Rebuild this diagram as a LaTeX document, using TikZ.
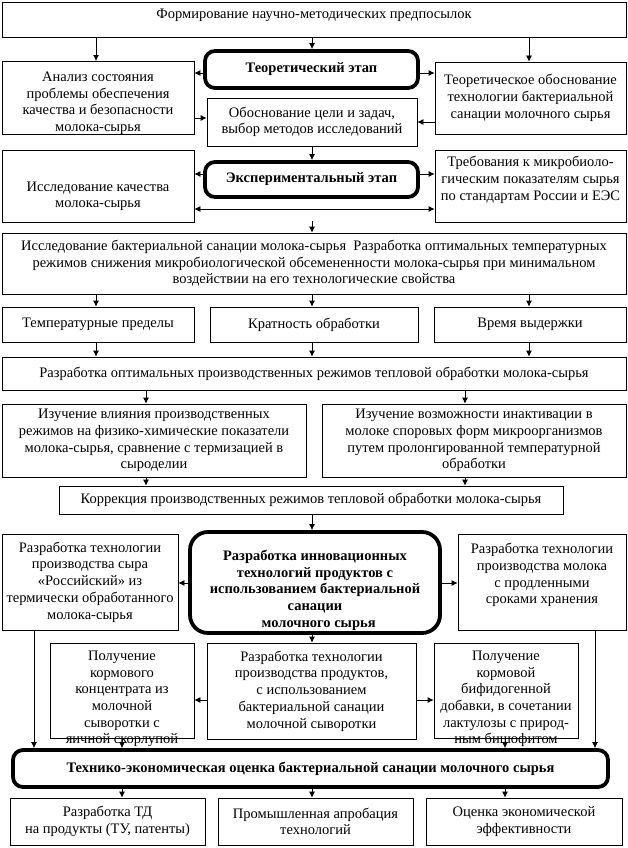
\documentclass[tikz,border=0pt]{standalone}
\usepackage{fontspec}
\setmainfont{Liberation Serif}
\usetikzlibrary{arrows.meta}
\newcommand\bx[7]{\node[#6, minimum width={#4-#2}, minimum height={#5-#3}] (#1) at ({(#2+#4)/2},{(#3+#5)/2}) {#7};}
\newcommand\tdn[1]{\rule{0pt}{#1}}
\newcommand\tup[1]{\rule[-#1]{0pt}{#1}}
\begin{document}
\begin{tikzpicture}[x=1pt,y=-1pt,
  every node/.style={font=\fontsize{14.5}{16.7}\selectfont},
  box/.style={draw, line width=0.8pt, align=center, inner sep=0pt},
  stage/.style={draw, line width=3.8pt, rounded corners=10pt, align=center, inner sep=0pt, font=\fontsize{14.5}{16.7}\selectfont\bfseries},
  txt/.style={align=center, inner sep=0pt},
  arr/.style={line width=0.8pt, -{Latex[length=6pt,width=6pt]}},
  darr/.style={line width=0.8pt, {Latex[length=6pt,width=6pt]}-{Latex[length=6pt,width=6pt]}},
]
\fill[white] (0,0) rectangle (628,848);
\useasboundingbox (0,0) rectangle (628,848);

\bx{top}{2}{2}{626}{37}{box}{Формирование научно-методических предпосылок\tup{11.5pt}}
\bx{teor}{205}{51}{418}{88}{stage}{Теоретический этап}
\bx{analiz}{2}{62}{194}{134}{box}{\tdn{20pt}Анализ состояния\\проблемы обеспечения\\качества и безопасности\\молока-сырья}
\bx{teorob}{435}{62}{626}{134}{box}{Теоретическое обоснование\\технологии бактериальной\\санации молочного сырья}
\bx{obosn}{207}{98}{417}{146}{box}{Обоснование цели и задач,\\выбор методов исследований}
\bx{issl}{2}{150}{194}{222}{box}{\tdn{30pt}Исследование качества\\молока-сырья}
\bx{eksp}{205}{162}{418}{197}{stage}{Экспериментальный этап}
\bx{treb}{435}{150}{626}{222}{box}{Требования к микробиоло-\\гическим показателям сырья\\по стандартам России и ЕЭС\tup{15pt}}
\bx{big}{2}{233}{626}{294}{box}{Исследование бактериальной санации молока-сырья\ \ Разработка оптимальных температурных\\режимов снижения микробиологической обсемененности молока-сырья при минимальном\\воздействии на его технологические свойства}
\bx{temp}{2}{307}{194}{342}{box}{Температурные пределы}
\bx{krat}{210}{307}{418}{342}{box}{Кратность обработки}
\bx{vrem}{434}{307}{626}{342}{box}{Время выдержки}
\bx{razopt}{2}{357}{626}{390}{box}{Разработка оптимальных производственных режимов тепловой обработки молока-сырья}
\bx{izvl}{2}{404}{306}{477}{box}{Изучение влияния производственных\\режимов на физико-химические показатели\\молока-сырья, сравнение с термизацией в\\сыроделии}
\bx{izvoz}{322}{404}{626}{477}{box}{Изучение возможности инактивации в\\молоке споровых форм микроорганизмов\\путем пролонгированной температурной\\обработки}
\bx{korr}{59}{486}{563}{514}{box}{Коррекция производственных режимов тепловой обработки молока-сырья}
\bx{innov}{190}{532}{440}{633}{stage,rounded corners=18pt}{\tdn{26pt}Разработка инновационных\\технологий продуктов с\\использованием бактериальной\\санации\\\ \ молочного сырья}
\bx{sir}{2}{534}{178}{630}{box}{Разработка технологии\\производства сыра\\«Российский» из\\термически обработанного\\молока-сырья}
\bx{mol}{458}{534}{626}{630}{box}{Разработка технологии\\производства молока\\с продленными\\сроками хранения\\~}
\bx{korm}{50}{643}{194}{738}{box}{}
\bx{sred}{207}{643}{416}{739}{box}{Разработка технологии\\производства продуктов,\\с использованием\\бактериальной санации\\молочной сыворотки}
\bx{bifid}{434}{643}{578}{738}{box}{}
\node[txt, anchor=north] (kormt) at ([yshift=-8pt]korm.north) {Получение\\кормового\\концентрата из\\молочной\\сыворотки с\\яичной скорлупой};
\node[txt, anchor=north] (bifidt) at ([yshift=-8pt]bifid.north) {Получение\\кормовой\\бифидогенной\\добавки, в сочетании\\лактулозы с природ-\\ным бишофитом};
\bx{tekh}{13}{750}{608}{787}{stage}{Технико-экономическая оценка бактериальной санации молочного сырья}
\bx{td}{10}{798}{205}{845}{box}{Разработка ТД\\на продукты (ТУ, патенты)}
\bx{prom}{218}{798}{413}{845}{box}{Промышленная апробация\\технологий}
\bx{ocen}{426}{798}{622}{845}{box}{Оценка экономической\\эффективности}

% arrows
\draw[arr] (top.south -| 96,0) -- (analiz.north -| 96,0);
\draw[arr] (top.south -| 312,0) -- (teor.north -| 312,0);
\draw[arr] (top.south -| 529,0) -- (teorob.north -| 529,0);
\draw[arr] (teor.west |- 0,73) -- (analiz.east |- 0,73);
\draw[arr] (teor.east |- 0,73) -- (teorob.west |- 0,73);
\draw[arr] (analiz.east |- 0,118) -- (obosn.west |- 0,118);
\draw[arr] (teorob.west |- 0,122) -- (obosn.east |- 0,122);
\draw[arr] (obosn.south -| 312,0) -- (eksp.north -| 312,0);
\draw[arr] (eksp.west |- 0,174) -- (issl.east |- 0,174);
\draw[arr] (eksp.east |- 0,174) -- (treb.west |- 0,174);
\draw[darr] (issl.east |- 0,209) -- (treb.west |- 0,209);
\coordinate (dstart) at (312,221);
\draw[arr] (dstart) -- (dstart |- big.north);
\foreach \xx/\nn in {96/temp,312/krat,529/vrem}{
  \draw[arr] (big.south -| \xx,0) -- (\nn.north -| \xx,0);
  \draw[arr] (\nn.south -| \xx,0) -- (razopt.north -| \xx,0);
}
\draw[arr] (razopt.south -| 146,0) -- (izvl.north -| 146,0);
\draw[arr] (razopt.south -| 465,0) -- (izvoz.north -| 465,0);
\draw[arr] (izvl.south -| 146,0) -- (korr.north -| 146,0);
\draw[arr] (izvoz.south -| 465,0) -- (korr.north -| 465,0);
\draw[arr] (korr.south -| 312,0) -- (innov.north -| 312,0);
\draw[arr] (innov.west |- 0,583) -- (sir.east |- 0,583);
\draw[arr] (innov.east |- 0,583) -- (mol.west |- 0,583);
\draw[arr] (innov.south -| 312,0) -- (sred.north -| 312,0);
\draw[arr] (sred.west |- 0,700) -- (korm.east |- 0,700);
\draw[arr] (sred.east |- 0,700) -- (bifid.west |- 0,700);
\draw[arr] (sir.south -| 34,0) -- (tekh.north -| 34,0);
\draw[arr] (korm.south -| 122,0) -- (tekh.north -| 122,0);
\draw[arr] (bifid.south -| 505,0) -- (tekh.north -| 505,0);
\draw[arr] (mol.south -| 595,0) -- (tekh.north -| 595,0);
\draw[arr] (tekh.south -| 122,0) -- (td.north -| 122,0);
\draw[arr] (tekh.south -| 312,0) -- (prom.north -| 312,0);
\draw[arr] (tekh.south -| 505,0) -- (ocen.north -| 505,0);
\end{tikzpicture}
\end{document}
